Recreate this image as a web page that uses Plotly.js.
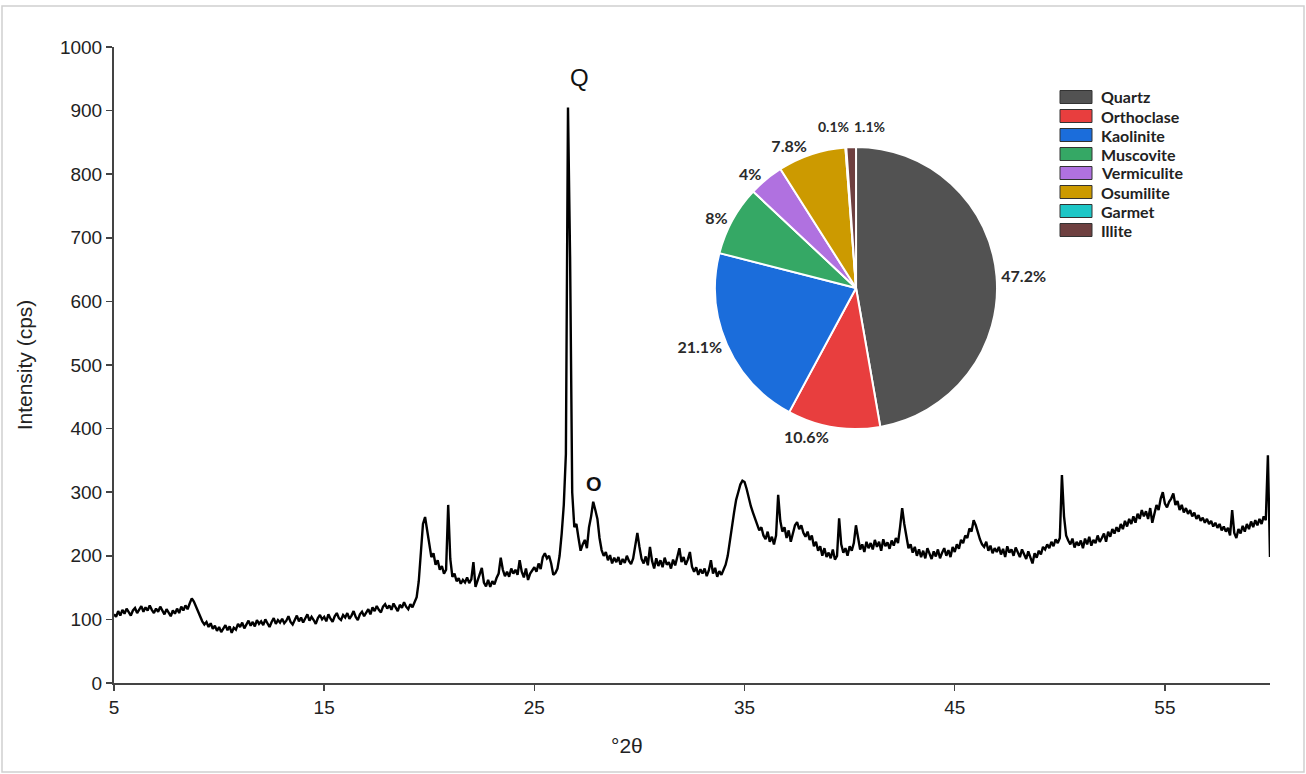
<!DOCTYPE html>
<html>
<head>
<meta charset="utf-8">
<script src="https://cdn.plot.ly/plotly-3.0.1.min.js"></script>
<style>
  html, body { margin: 0; padding: 0; background: #ffffff; }
  #chart { width: 1306px; height: 774px; }
</style>
</head>
<body>
<div id="chart"></div>
<script>
// ---- XRD pattern: intensity (cps) every 0.1 degree 2theta, from 5.0 to 60.0 ----
const twoThetaStart = 5;
const twoThetaStep = 0.1;
const intensity = [
  108,104,113,106,115,109,117,111,106,114,   // 5
  118,110,116,121,112,119,114,122,115,110,   // 6
  117,112,120,113,108,116,111,105,114,109,   // 7
  117,110,120,114,122,116,125,133,128,120,   // 8
  112,104,97,92,96,88,94,85,90,82,           // 9
  88,80,86,91,83,89,79,87,84,93,             // 10
  88,95,86,92,98,90,96,89,99,93,             // 11
  97,91,100,94,88,96,102,93,99,95,           // 12
  101,94,98,105,96,92,100,106,97,103,        // 13
  95,101,108,98,104,99,93,102,107,100,       // 14
  104,97,108,101,96,105,110,102,99,107,      // 15
  103,110,101,106,113,104,99,108,112,105,    // 16
  110,116,108,119,113,121,115,111,120,124,   // 17
  117,122,115,125,119,113,123,118,127,120,   // 18
  116,124,119,127,135,160,210,250,261,240,   // 19
  212,198,204,186,193,178,184,172,178,280,   // 20
  195,167,172,160,165,156,162,158,166,157,   // 21
  163,190,151,160,170,181,158,152,162,151,   // 22
  160,155,165,172,197,178,168,175,167,180,   // 23
  172,178,170,193,175,166,180,162,172,178,   // 24
  182,175,188,179,198,204,196,200,188,170,   // 25
  173,180,200,235,280,360,905,670,300,245,   // 26
  250,228,208,218,225,212,245,262,285,272,   // 27
  258,228,209,200,206,193,201,188,197,190,   // 28
  198,186,195,189,200,192,187,196,215,236,   // 29
  214,195,188,199,185,214,192,180,196,184,   // 30
  193,182,197,186,190,180,194,185,198,212,   // 31
  190,198,186,194,206,183,175,182,170,179,   // 32
  172,180,168,177,193,172,181,167,176,170,   // 33
  178,186,200,220,245,268,288,300,312,318,   // 34
  316,305,290,278,268,258,250,240,245,232,   // 35
  226,238,222,230,218,232,296,255,238,245,   // 36
  228,240,222,235,248,253,242,248,236,230,   // 37
  238,225,232,215,222,208,215,200,212,198,   // 38
  205,196,210,194,200,259,218,205,212,200,   // 39
  215,208,220,248,225,210,218,206,222,212,   // 40
  220,210,225,214,222,208,226,215,221,211,   // 41
  224,216,228,220,245,275,250,228,212,218,   // 42
  205,214,200,210,198,208,196,212,202,195,   // 43
  207,199,210,196,205,212,200,209,198,214,   // 44
  206,218,211,225,220,232,228,243,238,256,   // 45
  248,235,226,218,214,222,208,216,204,212,   // 46
  206,214,202,211,198,215,205,210,200,213,   // 47
  205,198,210,203,195,207,199,188,204,197,   // 48
  208,202,214,210,218,212,222,215,226,220,   // 49
  228,327,262,232,224,218,227,213,222,216,   // 50
  224,212,227,218,230,216,225,220,232,222,   // 51
  228,235,222,238,230,242,235,245,238,250,   // 52
  242,255,246,258,250,262,252,266,258,272,   // 53
  262,270,258,275,252,268,280,272,290,300,   // 54
  282,276,285,290,298,280,286,272,280,268,   // 55
  275,266,272,262,268,258,264,255,260,252,   // 56
  258,250,255,246,252,244,250,240,246,238,   // 57
  244,232,272,236,228,242,235,247,238,250,   // 58
  242,254,245,256,248,258,250,262,256,358,   // 59
  198                                        // 60
];

// ---- Axes ----
const xTickVals = [5, 15, 25, 35, 45, 55];
const yTickVals = [0, 100, 200, 300, 400, 500, 600, 700, 800, 900, 1000];

// ---- Peak labels ----
const peakLabels = ['Q', 'O'];
const peakX = [27.17, 27.84];
const peakY = [952, 313];

// ---- Mineral composition (pie) ----
const minerals = ['Quartz', 'Orthoclase', 'Kaolinite', 'Muscovite', 'Vermiculite', 'Osumilite', 'Garmet', 'Illite'];
const percents = [47.2, 10.6, 21.1, 8, 4, 7.8, 0.1, 1.1];
const pctLabels = ['47.2%', '10.6%', '21.1%', '8%', '4%', '7.8%', '0.1%', '1.1%'];
const mineralColors = ['#525252', '#e83e3e', '#1b6ddb', '#35a865', '#b071e0', '#cc9a00', '#1ec6c6', '#6e4040'];
// the two tiny slices share one crowded label spot above the pie (as in the original)
const labelOutside = ['outside', 'outside', 'outside', 'outside', 'outside', 'outside', 'none', 'none'];

const pctFont = { family: 'Lato, "Liberation Sans", sans-serif', size: 16, color: '#2a2a2a', weight: 'bold' };

const xrdTrace = {
  type: 'scatter',
  mode: 'lines',
  x0: twoThetaStart,
  dx: twoThetaStep,
  y: intensity,
  line: { color: '#000000', width: 2.4 },
  showlegend: false,
  hoverinfo: 'skip'
};

const pieTrace = {
  type: 'pie',
  labels: minerals,
  values: percents,
  text: pctLabels,
  textinfo: 'text',
  textposition: labelOutside,
  sort: false,
  direction: 'clockwise',
  rotation: 0,
  automargin: false,
  showlegend: false,
  domain: { x: [0.5199, 0.7639], y: [0.3994, 0.8428] },
  marker: { colors: mineralColors, line: { color: '#ffffff', width: 2 } },
  outsidetextfont: pctFont,
  hoverinfo: 'label+percent'
};

const annotations = [];
const shapes = [];
const plotW = 1156, plotH = 636, plotL = 114, plotB = 683;

peakLabels.forEach((t, i) => {
  annotations.push({
    xref: 'x', yref: 'y', x: peakX[i], y: peakY[i],
    text: t, showarrow: false,
    font: { family: '"Liberation Sans", Arial, sans-serif', size: i === 0 ? 24 : 20, color: '#111', weight: i === 0 ? 'normal' : 'bold' }
  });
});

// labels of the two smallest slices (Garmet, Illite), side by side above the pie
annotations.push({
  xref: 'paper', yref: 'paper', x: (851 - plotL) / plotW, y: (plotB - 127) / plotH,
  xanchor: 'right', yanchor: 'middle', text: pctLabels[6], showarrow: false, font: Object.assign({}, pctFont, { size: 14 })
});
annotations.push({
  xref: 'paper', yref: 'paper', x: (852 - plotL) / plotW, y: (plotB - 127) / plotH,
  xanchor: 'left', yanchor: 'middle', text: pctLabels[7], showarrow: false, font: Object.assign({}, pctFont, { size: 14 })
});

// x-axis title (placed left of centre as in the original)
annotations.push({
  xref: 'x', yref: 'paper', x: 29.4, y: -0.0975, yanchor: 'middle',
  text: '°2θ', showarrow: false,
  font: { family: '"Liberation Sans", Arial, sans-serif', size: 21, color: '#222' }
});

// Legend (swatch + label) built from the mineral arrays
minerals.forEach((m, i) => {
  const cy = 97 + 19 * i;
  const yc = (plotB - cy) / plotH;
  shapes.push({
    type: 'rect', xref: 'paper', yref: 'paper',
    x0: (1060 - plotL) / plotW, x1: (1092 - plotL) / plotW,
    y0: yc - 6.5 / plotH, y1: yc + 6.5 / plotH,
    fillcolor: mineralColors[i], line: { color: '#333333', width: 1 }
  });
  annotations.push({
    xref: 'paper', yref: 'paper', x: (1099 - plotL) / plotW, y: yc,
    xanchor: 'left', yanchor: 'middle', text: m, showarrow: false,
    font: { family: 'Lato, "Liberation Sans", sans-serif', size: 16, color: '#222', weight: 'bold' }
  });
});

// light frame around the figure
shapes.push({
  type: 'rect', xref: 'paper', yref: 'paper',
  x0: (2 - plotL) / plotW, x1: (1304 - plotL) / plotW,
  y0: (plotB - 772) / plotH, y1: (plotB - 6) / plotH,
  line: { color: '#d0d0d0', width: 1.5 }, fillcolor: 'rgba(0,0,0,0)', layer: 'below'
});

const layout = {
  width: 1306,
  height: 774,
  margin: { l: 114, r: 36, t: 47, b: 91 },
  paper_bgcolor: '#ffffff',
  plot_bgcolor: '#ffffff',
  font: { family: '"Liberation Sans", Arial, sans-serif', color: '#222' },
  showlegend: false,
  xaxis: {
    range: [5, 60],
    tickmode: 'array',
    tickvals: xTickVals,
    ticks: 'outside', ticklen: 6, tickwidth: 1.5, tickcolor: '#444',
    showline: true, linecolor: '#444', linewidth: 2,
    showgrid: false, zeroline: false,
    tickfont: { size: 19, color: '#222' }
  },
  yaxis: {
    range: [0, 1000],
    tickmode: 'array',
    tickvals: yTickVals,
    ticks: 'outside', ticklen: 6, tickwidth: 1.5, tickcolor: '#444',
    showline: true, linecolor: '#444', linewidth: 2,
    showgrid: false, zeroline: false,
    tickfont: { size: 19, color: '#222' },
    title: { text: 'Intensity (cps)', font: { size: 21, color: '#222' }, standoff: 22 }
  },
  annotations: annotations,
  shapes: shapes
};

Plotly.newPlot('chart', [xrdTrace, pieTrace], layout, { displayModeBar: false, staticPlot: true });
</script>
</body>
</html>
